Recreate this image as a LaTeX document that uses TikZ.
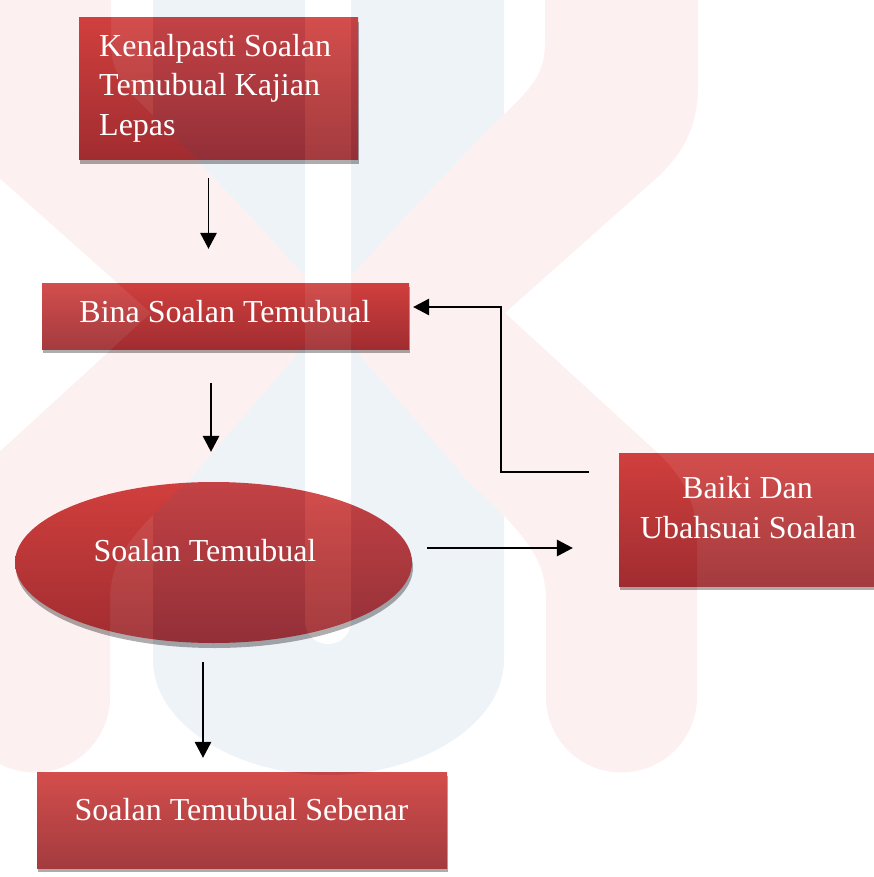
\documentclass[tikz,border=0pt]{standalone}
\usepackage{fontspec}
\setmainfont{Liberation Serif}
\usetikzlibrary{arrows.meta,shapes.geometric,calc,shadows}
\definecolor{boxtop}{RGB}{208,63,61}
\definecolor{boxbot}{RGB}{156,43,47}
\definecolor{shadowgray}{RGB}{168,166,166}
\definecolor{wmred}{RGB}{217,68,68}
\definecolor{wmblue}{RGB}{43,105,167}
\tikzset{
  flowbox/.style={rectangle, inner sep=0pt, draw=none, top color=boxtop, bottom color=boxbot,
    drop shadow={shadow xshift=1pt, shadow yshift=-4pt, fill=shadowgray, opacity=1}},
  flowoval/.style={ellipse, inner sep=0pt, draw=none, top color=boxtop, bottom color=boxbot,
    drop shadow={shadow xshift=1pt, shadow yshift=-5pt, fill=shadowgray, opacity=1}},
  lbl/.style={text=white, font=\fontsize{32}{39}\selectfont, inner sep=0pt, anchor=base},
  lblleft/.style={lbl, anchor=base west},
  arr/.style={line width=1.6pt, line join=miter, -{Triangle[width=16.5pt,length=16pt]}},
}
\begin{document}
\begin{tikzpicture}[x=1pt,y=-1pt]
\useasboundingbox (0,0) rectangle (874,877);

% boxes
\node[flowbox, minimum width=279pt, minimum height=142pt] (b1) at (218.5,89) {};
\node[flowbox, minimum width=367pt, minimum height=66pt] (b2) at (225.5,316) {};
\node[flowoval, minimum width=397pt, minimum height=161pt] (e) at (213.5,562.5) {};
\node[flowbox, minimum width=261pt, minimum height=133pt] (b4) at (749.5,519.5) {};
\node[flowbox, minimum width=410pt, minimum height=96pt] (b5) at (242,820) {};

% faint watermark laid over the page
\begin{scope}[transparency group, opacity=0.08]
  \fill[white] (-5,-5) rectangle (880,882);
  \fill[wmblue] (153,-10) -- (153,660) .. controls (153,724) and (236,775) .. (328.5,775)
     .. controls (421,775) and (504,724) .. (504,660) -- (504,-10) -- cycle;
  \fill[wmred] (545,-10) -- (698,-10) -- (698,85) .. controls (698,125) and (685,150) .. (660,175)
     -- (505,313) -- (660,455) .. controls (685,480) and (697,505) .. (697,540) -- (697,697)
     .. controls (697,739) and (663,772.5) .. (621.5,772.5) .. controls (580,772.5) and (546,739) .. (546,697)
     -- (546,600) .. controls (546,555) and (520,530) .. (467,480) -- (360,355) -- (328,318) -- (328,300)
     -- (360,267) .. controls (420,200) and (450,170) .. (490,128) .. controls (535,85) and (545,75) .. (545,40) -- cycle;
  \begin{scope}[xshift=656pt, xscale=-1]
  \fill[wmred] (545,-10) -- (698,-10) -- (698,85) .. controls (698,125) and (685,150) .. (660,175)
     -- (505,313) -- (660,455) .. controls (685,480) and (697,505) .. (697,540) -- (697,697)
     .. controls (697,739) and (663,772.5) .. (621.5,772.5) .. controls (580,772.5) and (546,739) .. (546,697)
     -- (546,600) .. controls (546,555) and (520,530) .. (467,480) -- (360,355) -- (328,318) -- (328,300)
     -- (360,267) .. controls (420,200) and (450,170) .. (490,128) .. controls (535,85) and (545,75) .. (545,40) -- cycle;
  \end{scope}
  \fill[white] (305,-10) -- (305,621) .. controls (305,634) and (315,644) .. (328,644)
     .. controls (341,644) and (351,634) .. (351,621) -- (351,-10) -- cycle;
\end{scope}

% texts
\node[lblleft] (k1) at (99,57) {Kenalpasti Soalan};
\node[lblleft] (k2) at (99,96) {Temubual Kajian};
\node[lblleft] (k3) at (99,136) {Lepas};
\node[lbl] (t2) at (225,322) {Bina Soalan Temubual};
\node[lbl] (t3) at (205,561) {Soalan Temubual};
\node[lbl] (t4a) at (747.5,498) {Baiki Dan};
\node[lbl] (t4b) at (748,538) {Ubahsuai Soalan};
\node[lbl] (t5) at (241.5,820) {Soalan Temubual Sebenar};

% connectors
\draw[arr] ($(b1.south)+(-10,18)$) -- ($(b2.north)+(-17,-34)$);
\draw[arr] ($(b2.south)+(-14.5,34)$) -- ($(e.north)+(-2.5,-30)$);
\draw[arr] ($(e.south)+(-10.5,19)$) -- ($(b5.north)+(-39,-14)$);
\draw[arr] ($(e.east)+(15,-14.5)$) -- ($(b4.west)+(-46,28.5)$);
\draw[arr] ($(b4.west)+(-30,-47.5)$) -- ++(-88,0) |- ($(b2.east)+(4,-9)$);
\end{tikzpicture}
\end{document}
